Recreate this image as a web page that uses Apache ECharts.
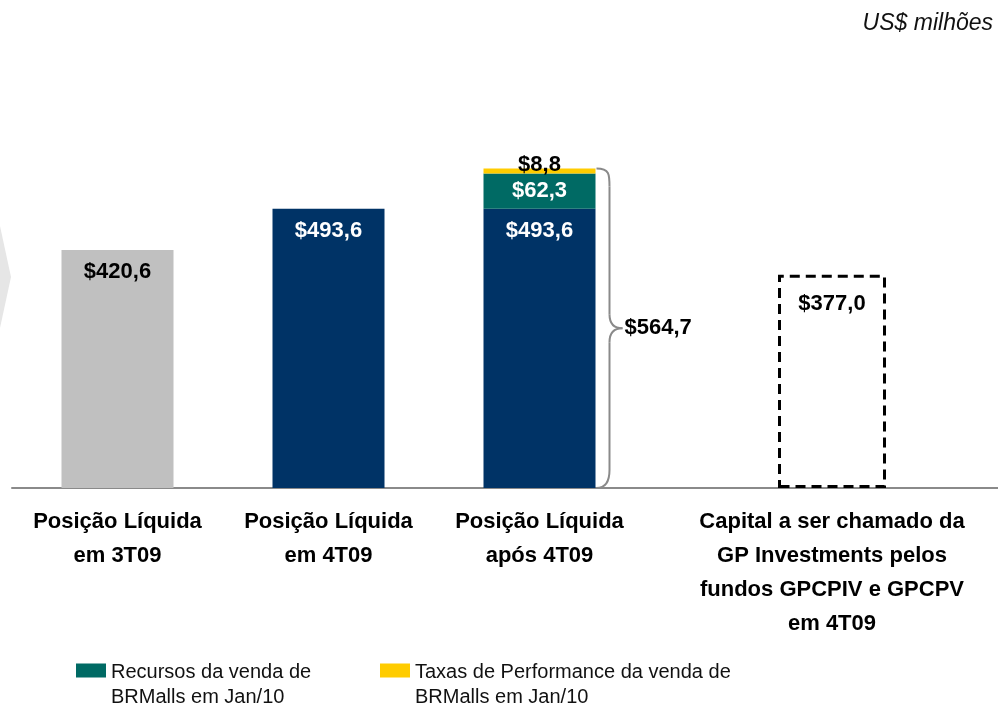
<!DOCTYPE html>
<html>
<head>
<meta charset="utf-8">
<script src="https://cdn.jsdelivr.net/npm/echarts@6/dist/echarts.min.js"></script>
<style>
  html, body { margin: 0; padding: 0; background: #fff; }
  #chart { width: 998px; height: 707px; }
</style>
</head>
<body>
<div id="chart"></div>
<script>
// values in US$ milhões
const categories = ['Posição Líquida\nem 3T09', 'Posição Líquida\nem 4T09', 'Posição Líquida\napós 4T09'];
const capitalCategory = ['Capital a ser chamado da\nGP Investments pelos\nfundos GPCPIV e GPCPV\nem 4T09'];
const basePositions = [420.6, 493.6, 493.6];
const brmallsProceeds = ['-', '-', 62.3];
const performanceFees = ['-', '-', 8.8];
const capitalToCall = [377.0];
const legendNames = ['Recursos da venda de\nBRMalls em Jan/10', 'Taxas de Performance da venda de\nBRMalls em Jan/10'];
const unitLabel = 'US$ milhões';

const FONT = 'Liberation Sans, Arial, sans-serif';
const GRAY = '#C0C0C0', NAVY = '#003366', TEAL = '#006A64', YELLOW = '#FFCC00';
const money = v => '$' + Number(v).toFixed(1).replace('.', ',');

const chart = echarts.init(document.getElementById('chart'), null, { renderer: 'canvas' });

const axisCommon = {
    type: 'category',
    axisTick: { show: false },
    axisLine: { lineStyle: { color: '#8a8a8a', width: 2 } },
    axisLabel: {
        color: '#000', fontFamily: FONT, fontWeight: 'bold', fontSize: 22,
        lineHeight: 34, margin: 17, interval: 0
    }
};
const yCommon = { type: 'value', min: 0, max: 700, show: false, splitLine: { show: false } };

// rect sits in the top part of a taller icon box so it lines up with the first text line
const legendCommon = {
    top: 660, padding: 0, itemWidth: 30, itemHeight: 43,
    icon: 'path://M0,0h30v14h-30z M0,43h30',
    selectedMode: false,
    textStyle: { fontFamily: FONT, fontSize: 20, color: '#111', lineHeight: 25 }
};
const valueLabel = { fontFamily: FONT, fontWeight: 'bold', fontSize: 22, formatter: p => money(p.value) };

chart.setOption({
    animation: false,
    backgroundColor: '#fff',
    grid: [
        { left: 12, width: 633, top: 92, bottom: 219, outerBoundsMode: 'none' },
        { left: 645, width: 374, top: 92, bottom: 219, outerBoundsMode: 'none' }
    ],
    xAxis: [
        Object.assign({ gridIndex: 0, data: categories }, axisCommon),
        Object.assign({ gridIndex: 1, data: capitalCategory }, axisCommon)
    ],
    yAxis: [
        Object.assign({ gridIndex: 0 }, yCommon),
        Object.assign({ gridIndex: 1 }, yCommon)
    ],
    legend: [
        Object.assign({ left: 76, data: [legendNames[0]] }, legendCommon),
        Object.assign({ left: 380, data: [legendNames[1]] }, legendCommon)
    ],
    series: [
        {
            name: 'Posição Líquida', type: 'bar', stack: 'pos', barWidth: 112,
            xAxisIndex: 0, yAxisIndex: 0,
            data: basePositions.map((v, i) => ({
                value: v,
                itemStyle: { color: i === 0 ? GRAY : NAVY },
                label: { color: i === 0 ? '#000' : '#fff' }
            })),
            label: Object.assign({ show: true, position: 'insideTop', distance: 11 }, valueLabel)
        },
        {
            name: legendNames[0], type: 'bar', stack: 'pos', barWidth: 112,
            xAxisIndex: 0, yAxisIndex: 0,
            itemStyle: { color: TEAL },
            data: brmallsProceeds,
            label: Object.assign({ show: true, position: 'inside', color: '#fff' }, valueLabel)
        },
        {
            name: legendNames[1], type: 'bar', stack: 'pos', barWidth: 112,
            xAxisIndex: 0, yAxisIndex: 0,
            itemStyle: { color: YELLOW },
            data: performanceFees,
            label: Object.assign({ show: true, position: 'top', distance: -7, color: '#000' }, valueLabel)
        },
        {
            name: 'Capital a ser chamado', type: 'bar', barWidth: 108,
            xAxisIndex: 1, yAxisIndex: 1,
            itemStyle: {
                color: 'rgba(0,0,0,0)', borderColor: '#000', borderWidth: 3,
                borderType: [10, 6]
            },
            data: capitalToCall,
            label: Object.assign({ show: true, position: 'insideTop', distance: 18, color: '#000' }, valueLabel)
        }
    ]
});

// brace + total next to the third bar, placed through the axis scales
const total = basePositions[2] + brmallsProceeds[2] + performanceFees[2];
const topPx = chart.convertToPixel({ gridIndex: 0 }, [2, total]);
const bottomPx = chart.convertToPixel({ gridIndex: 0 }, [2, 0]);
const x0 = topPx[0] + 112 / 2 + 1;
const yT = topPx[1], yB = bottomPx[1], yM = (yT + yB) / 2;
const xv = x0 + 13, xt = x0 + 26;
const braceStyle = { fill: null, stroke: '#8a8a8a', lineWidth: 2 };
const curve = (a, b, c1, c2) => ({
    type: 'bezierCurve', silent: true, style: braceStyle,
    shape: { x1: a[0], y1: a[1], x2: b[0], y2: b[1], cpx1: c1[0], cpy1: c1[1], cpx2: c2[0], cpy2: c2[1] }
});
const seg = (a, b) => ({
    type: 'line', silent: true, style: braceStyle,
    shape: { x1: a[0], y1: a[1], x2: b[0], y2: b[1] }
});

chart.setOption({
    graphic: [
        {
            type: 'polygon', silent: true,
            shape: { points: [[0, 226], [11, 277], [0, 328]] },
            style: { fill: '#E6E6E6' }
        },
        curve([x0, yT], [xv, yT + 18], [xv, yT], [xv, yT + 6]),
        seg([xv, yT + 18], [xv, yM - 14]),
        curve([xv, yM - 14], [xt, yM], [xv, yM - 3], [xv + 6, yM]),
        curve([xt, yM], [xv, yM + 14], [xv + 6, yM], [xv, yM + 3]),
        seg([xv, yM + 14], [xv, yB - 18]),
        curve([xv, yB - 18], [x0, yB], [xv, yB - 6], [xv - 4, yB]),
        {
            type: 'text', silent: true, x: xt + 2, y: yM,
            style: {
                text: money(total), fill: '#000', font: 'bold 22px ' + FONT,
                verticalAlign: 'middle'
            }
        },
        {
            type: 'text', silent: true, right: 5, top: 12,
            style: { text: unitLabel, fill: '#111', font: 'italic 23px ' + FONT }
        }
    ]
});
</script>
</body>
</html>
